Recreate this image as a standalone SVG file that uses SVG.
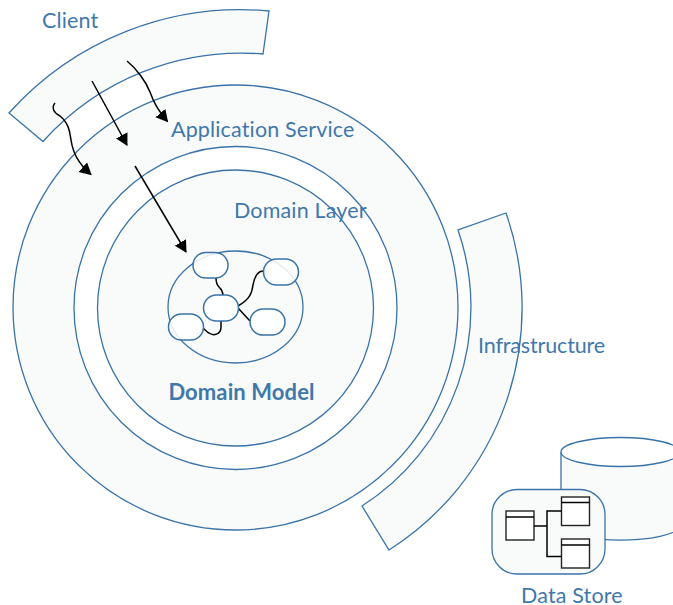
<svg xmlns="http://www.w3.org/2000/svg" width="673" height="605" viewBox="0 0 673 605">
<defs>
<marker id="a" markerUnits="userSpaceOnUse" markerWidth="14" markerHeight="14" refX="11" refY="6.500" orient="auto"><path d="M0,0L12,6.500L0,13Z" fill="#000"/></marker>
<style>
.s{fill:#f9fbfa;stroke:#3a73a8;stroke-width:1.3}
.w{fill:#fff;stroke:#3a73a8;stroke-width:1.3}
.n{fill:#fff;fill-opacity:.85;stroke:#3a73a8;stroke-width:1.5}
.k{fill:none;stroke:#000;stroke-width:1.5}
.b{fill:#fff;stroke:#222;stroke-width:1.4}
.l{font-family:Lato,"Liberation Sans",sans-serif;font-size:21.5px;letter-spacing:.15px;fill:#3f78ab}
.m{font-family:Lato,"Liberation Sans",sans-serif;font-size:22px;font-weight:700;letter-spacing:.1px;fill:#3f78ab}
</style>
</defs>
<rect width="673" height="605" fill="#fff"/>
<g id="client"><path class="s" d="M9,113A310,310 0 0 1 269,11L263,54A266,266 0 0 0 43,141.500Z"/><text class="l" x="42" y="28">Client</text></g>
<g id="application-service"><circle class="s" cx="235.500" cy="307.500" r="222.500"/></g>
<g id="domain-layer"><circle class="w" cx="235.500" cy="308" r="161.500"/><circle class="s" cx="235.500" cy="308" r="138"/></g>
<g id="infrastructure"><path class="s" d="M458,230A236,236 0 0 1 362,506L389,550A287,287 0 0 0 506,213Z"/></g>
<g id="domain-model"><ellipse class="s" cx="235.500" cy="307" rx="67.500" ry="56"/>
<text class="m" x="241.500" y="400" text-anchor="middle">Domain Model</text></g>
<g id="connectors">
<path class="k" d="M127,61C137,69 146,82 150,92C153,100 156,108 167.500,121.500" marker-end="url(#a)"/>
<path class="k" d="M92,81L127,145" marker-end="url(#a)"/>
<path class="k" d="M55,103C51,108 54,113 60,116C70,124 70,135 71,140C73,153 78,163 91,174.500" marker-end="url(#a)"/>
<path class="k" d="M135,166L186,252" marker-end="url(#a)"/>
<path class="k" d="M216,278C216,290 222,285 223,295"/>
<path class="k" d="M238,306C250,299 252,293 253,285C255,275 258,271 263,271"/>
<path class="k" d="M238,308L250,321"/>
<path class="k" d="M221,321V327C221,335 213,336 209,333C207,332 205,330 203,328"/>
</g>
<g id="node-1"><rect class="n" x="193" y="252.500" width="35" height="25.500" rx="12.700"/></g>
<g id="node-2"><rect class="n" x="263.500" y="259" width="35" height="26" rx="13"/></g>
<g id="node-3"><rect class="n" x="203.500" y="295" width="35" height="26" rx="13"/></g>
<g id="node-4"><rect class="n" x="168.500" y="314" width="35" height="26" rx="13"/></g>
<g id="node-5"><rect class="n" x="250" y="309" width="35" height="26" rx="13"/></g>
<g id="labels"><text class="l" x="171" y="137">Application Service</text><text class="l" x="234" y="218">Domain Layer</text><text class="l" x="478" y="353" style="letter-spacing:-.15px">Infrastructure</text></g>
<g id="data-store">
<path class="s" d="M561,452V527A60,15 0 0 0 680,527V452"/><ellipse class="w" cx="620.500" cy="452" rx="59.500" ry="14.500"/>
<rect class="s" x="492" y="489.500" width="113" height="84.500" rx="25"/>
<g class="tables"><rect class="b" x="506" y="511" width="28" height="29"/><path class="k" d="M506,517H534"/><rect class="b" x="561.500" y="497" width="28" height="28.500"/><path class="k" d="M561.500,502.500H589.500"/><rect class="b" x="561.500" y="539" width="28" height="29"/><path class="k" d="M561.500,545H589.500M534,526H547M561.500,511H547V556.500H561.500"/></g>
<text class="l" x="521" y="603">Data Store</text></g>
</svg>
